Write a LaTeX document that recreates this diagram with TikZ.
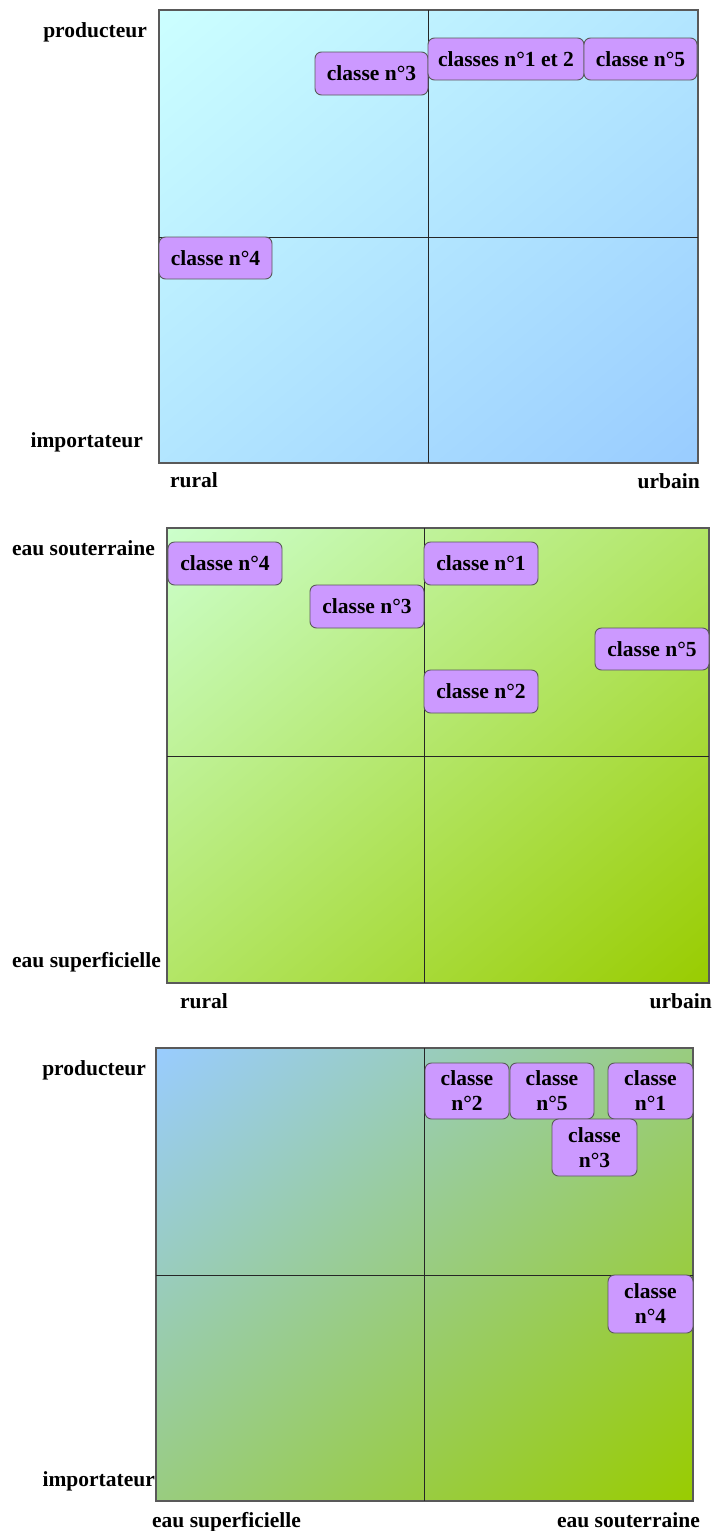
\documentclass[tikz,border=0pt]{standalone}
\usepackage{fontspec}
\setmainfont{Liberation Serif}
\usetikzlibrary{shadings}
\definecolor{cPurple}{HTML}{CC99FF}
\definecolor{cCyan}{HTML}{CCFFFF}
\definecolor{cBlue}{HTML}{99CCFF}
\definecolor{cLgreen}{HTML}{CCFFCC}
\definecolor{cLime}{HTML}{99CC00}
\begin{document}
\begin{tikzpicture}[x=1pt,y=-1pt,
  lbl/.style={font=\fontsize{21.5}{25}\selectfont\bfseries, inner sep=0pt},
  cls/.style={draw=black!65, fill=cPurple, rounded corners=6.5pt, line width=0.9pt,
    inner sep=0pt, align=center, font=\fontsize{21.5}{25}\selectfont\bfseries},
  frame/.style={draw=black!65, line width=1.2pt},
  divider/.style={draw=black!85, line width=0.8pt}]
\useasboundingbox (0,0) rectangle (714,1531);
\fill[white] (0,0) rectangle (714,1531);

% ---------- Panel 1 ----------
\path[frame, upper left=cCyan, lower right=cBlue,
  upper right=cCyan!50!cBlue, lower left=cCyan!50!cBlue] (159,10) rectangle (698,463);
\draw[divider] (428,10) -- (428,463);
\draw[divider] (159,237) -- (698,237);
\node[lbl, anchor=base east] (p1prod) at (147,37) {producteur};
\node[lbl, anchor=base east] (p1imp) at (143,447) {importateur};
\node[lbl, anchor=base west] (p1rur) at (170,487) {rural};
\node[lbl, anchor=base east] (p1urb) at (700,488) {urbain};
\node[cls, minimum width=113, minimum height=43] (p1c3) at (371.5,73.5) {classe n°3};
\node[cls, minimum width=156, minimum height=42] (p1c12) at (506,59) {classes n°1 et 2};
\node[cls, minimum width=113, minimum height=42] (p1c5) at (640.5,59) {classe n°5};
\node[cls, minimum width=113, minimum height=42] (p1c4) at (215.5,258) {classe n°4};

% ---------- Panel 2 ----------
\path[frame, upper left=cLgreen, lower right=cLime,
  upper right=cLgreen!50!cLime, lower left=cLgreen!50!cLime] (167,528) rectangle (709,983);
\draw[divider] (424,528) -- (424,983);
\draw[divider] (167,756) -- (709,756);
\node[lbl, anchor=base east] (p2sout) at (155,555) {eau souterraine};
\node[lbl, anchor=base east] (p2sup) at (161,967) {eau superficielle};
\node[lbl, anchor=base west] (p2rur) at (180,1008) {rural};
\node[lbl, anchor=base east] (p2urb) at (712,1008) {urbain};
\node[cls, minimum width=114, minimum height=43] (p2c4) at (225,563.5) {classe n°4};
\node[cls, minimum width=114, minimum height=43] (p2c3) at (367,606.5) {classe n°3};
\node[cls, minimum width=114, minimum height=43] (p2c1) at (481,563.5) {classe n°1};
\node[cls, minimum width=114, minimum height=42] (p2c5) at (652,649) {classe n°5};
\node[cls, minimum width=114, minimum height=43] (p2c2) at (481,691.5) {classe n°2};

% ---------- Panel 3 ----------
\path[frame, upper left=cBlue, lower right=cLime,
  upper right=cBlue!50!cLime, lower left=cBlue!50!cLime] (156,1048) rectangle (693,1501);
\draw[divider] (424,1048) -- (424,1501);
\draw[divider] (156,1275) -- (693,1275);
\node[lbl, anchor=base east] (p3prod) at (146,1075) {producteur};
\node[lbl, anchor=base east] (p3imp) at (155,1486) {importateur};
\node[lbl, anchor=base west] (p3sup) at (152,1527) {eau superficielle};
\node[lbl, anchor=base east] (p3sout) at (700,1527) {eau souterraine};
\node[cls, minimum width=84, minimum height=56] (p3c2) at (467,1091) {classe\\n°2};
\node[cls, minimum width=84, minimum height=56] (p3c5) at (552,1091) {classe\\n°5};
\node[cls, minimum width=85, minimum height=56] (p3c1) at (650.5,1091) {classe\\n°1};
\node[cls, minimum width=85, minimum height=57] (p3c3) at (594.5,1147.5) {classe\\n°3};
\node[cls, minimum width=85, minimum height=58] (p3c4) at (650.5,1304) {classe\\n°4};
\end{tikzpicture}
\end{document}
